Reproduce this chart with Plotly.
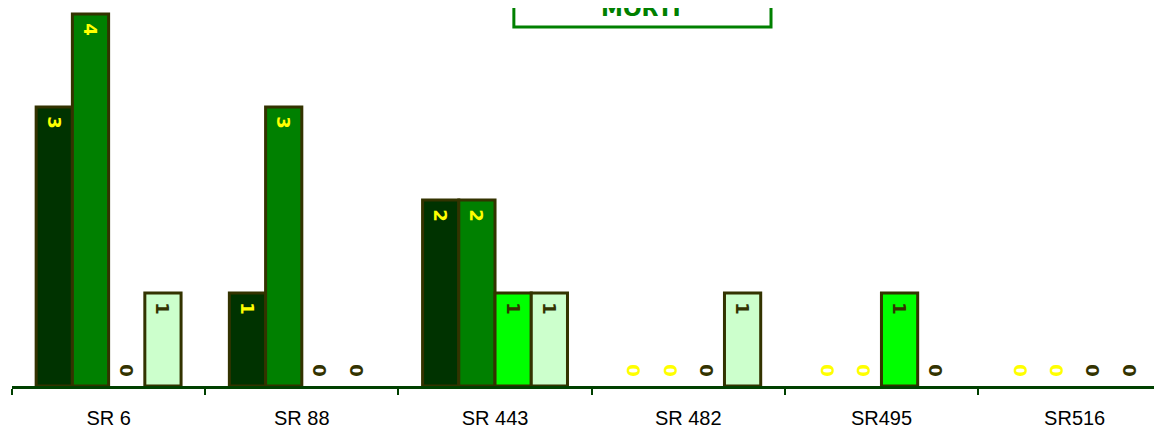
import plotly.graph_objects as go

# categories and series values
roads = ["SR 6", "SR 88", "SR 443", "SR 482", "SR495", "SR516"]
serie_1 = [3, 1, 2, 0, 0, 0]
serie_2 = [4, 3, 2, 0, 0, 0]
serie_3 = [0, 0, 1, 0, 1, 0]
serie_4 = [1, 0, 1, 1, 0, 0]
series_names = ["Serie 1", "Serie 2", "Serie 3", "Serie 4"]

fill_colors = ["#003300", "#008000", "#00FF00", "#CCFFCC"]
label_colors = ["#FFFF00", "#FFFF00", "#333300", "#333300"]

NBSP = "\u00a0"

fig = go.Figure()

for name, values, fill, label in zip(
    series_names, [serie_1, serie_2, serie_3, serie_4], fill_colors, label_colors
):
    # a non-breaking space keeps the rotated label a little off the bar end
    labels = [NBSP + str(v) if v > 0 else str(v) + NBSP for v in values]
    fig.add_trace(go.Bar(
        x=roads,
        y=values,
        name=name,
        text=labels,
        textposition=["inside" if v > 0 else "outside" for v in values],
        insidetextanchor="end",
        textangle=90,
        textfont=dict(family="DejaVu Sans", size=18, color=label, weight="bold"),
        cliponaxis=False,
        marker=dict(
            color=fill,
            line=dict(color="#333300", width=[3 if v > 0 else 0 for v in values]),
        ),
    ))

# the page body adds an 8px margin, so the figure is 8px smaller each way
fig.update_layout(
    width=1154,
    height=420,
    margin=dict(l=4, r=0, t=0, b=42),
    barmode="group",
    bargap=0.25,
    bargroupgap=0,
    showlegend=False,
    plot_bgcolor="white",
    paper_bgcolor="white",
    font=dict(family="Liberation Sans", size=20, color="#000000"),
)

# the last category runs past the right edge of the picture
fig.update_xaxes(
    range=[-0.5, 5.452],
    showline=True,
    linecolor="#004000",
    linewidth=3,
    ticks="outside",
    tickson="boundaries",
    ticklen=6,
    tickwidth=2,
    tickcolor="#004000",
    ticklabelstandoff=12,
    tickfont=dict(size=20),
    showgrid=False,
)

fig.update_yaxes(
    range=[0, 4.065],
    showticklabels=False,
    showgrid=False,
    zeroline=False,
    showline=False,
)

# title box, cut off at the top of the page
fig.add_shape(
    type="rect",
    xref="paper", yref="paper",
    x0=0.4364, x1=0.660, y0=0.9497, y1=1.2,
    line=dict(color="#008000", width=3),
    fillcolor="white",
    layer="above",
)
fig.add_annotation(
    text="<b>MORTI</b>",
    xref="paper", yref="paper",
    x=0.547, y=0.960,
    yanchor="bottom",
    showarrow=False,
    font=dict(family="DejaVu Sans", size=22, color="#008000"),
)

fig.write_html("out.html")
